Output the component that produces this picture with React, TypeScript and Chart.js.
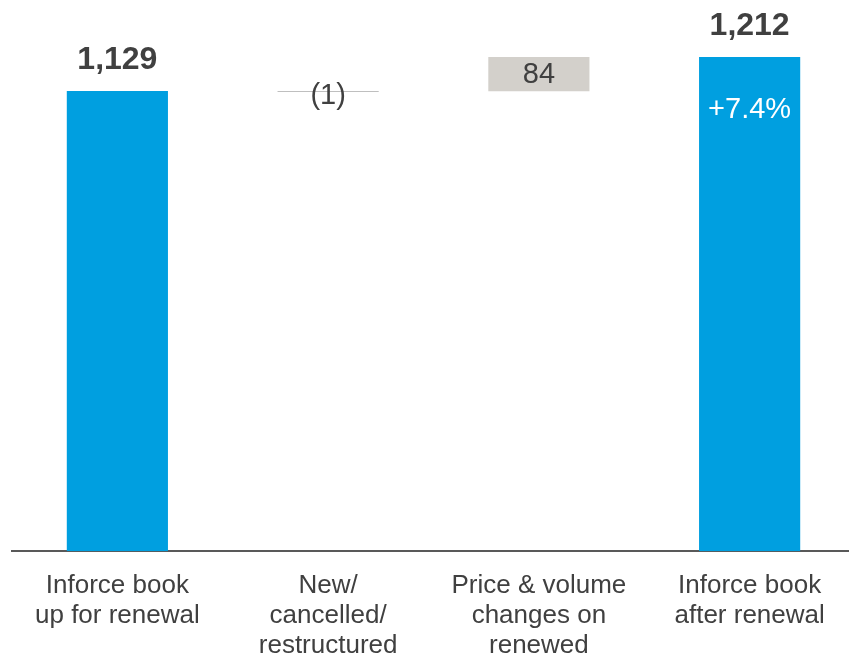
import React, { useEffect, useRef } from "react";
import { Chart, registerables } from "chart.js";

Chart.register(...registerables);

const categories: string[][] = [
  ["Inforce book", "up for renewal"],
  ["New/", "cancelled/", "restructured"],
  ["Price & volume", "changes on", "renewed"],
  ["Inforce book", "after renewal"],
];
const startTotal = 1129;
const changes = [-1, 84];
const endTotal = 1212;
const valueLabels = ["1,129", "(1)", "84", "1,212"];
const growthLabel = "+7.4%";

const BLUE = "#009FE0";
const GREY = "#D3D0CB";
const TEXT = "#404040";
const FONT = "'Liberation Sans', Arial, sans-serif";

export default function App() {
  const ref = useRef<HTMLCanvasElement | null>(null);

  useEffect(() => {
    document.body.style.margin = "0";
    const ranges: [number, number][] = [];
    ranges.push([0, startTotal]);
    let running = startTotal;
    changes.forEach((c) => {
      const next = running + c;
      ranges.push([Math.min(running, next), Math.max(running, next)]);
      running = next;
    });
    ranges.push([0, endTotal]);

    const labelPlugin = {
      id: "wfLabels",
      afterDatasetsDraw(chart: any) {
        const ctx = chart.ctx;
        const meta = chart.getDatasetMeta(0);
        ctx.save();
        ctx.textAlign = "center";
        ctx.textBaseline = "middle";
        meta.data.forEach((bar: any, i: number) => {
          const { x, y, base, width } = bar.getProps(["x", "y", "base", "width"], true);
          const top = Math.min(y, base);
          const bottom = Math.max(y, base);
          if (i === 0 || i === meta.data.length - 1) {
            ctx.font = `bold 32px ${FONT}`;
            ctx.fillStyle = TEXT;
            ctx.fillText(valueLabels[i], x, top - 31);
            if (i === meta.data.length - 1) {
              ctx.font = `29px ${FONT}`;
              ctx.fillStyle = "#FFFFFF";
              ctx.fillText(growthLabel, x, top + 53);
            }
          } else if (changes[i - 1] < 0) {
            ctx.strokeStyle = "#BFBFBF";
            ctx.lineWidth = 1;
            ctx.beginPath();
            ctx.moveTo(x - width / 2, Math.round(top) + 0.5);
            ctx.lineTo(x + width / 2, Math.round(top) + 0.5);
            ctx.stroke();
            ctx.font = `29px ${FONT}`;
            ctx.fillStyle = TEXT;
            ctx.fillText(valueLabels[i], x, top + 5);
          } else {
            ctx.font = `29px ${FONT}`;
            ctx.fillStyle = TEXT;
            ctx.fillText(valueLabels[i], x, (top + bottom) / 2 + 1);
          }
        });
        ctx.restore();
      },
    };

    const chart = new Chart(ref.current as HTMLCanvasElement, {
      type: "bar",
      data: {
        labels: categories,
        datasets: [
          {
            data: ranges as any,
            backgroundColor: [BLUE, "rgba(0,0,0,0)", GREY, BLUE],
            borderWidth: 0,
            categoryPercentage: 1,
            barPercentage: 0.48,
          },
        ],
      },
      options: {
        animation: false,
        responsive: false,
        maintainAspectRatio: false,
        layout: { padding: { left: 12, right: 0, top: 0, bottom: -27 } },
        plugins: {
          legend: { display: false },
          tooltip: { enabled: false },
        },
        scales: {
          x: {
            grid: { display: false, drawTicks: false },
            border: { display: true, color: "#595959", width: 2 },
            ticks: {
              color: TEXT,
              font: { family: FONT, size: 26, lineHeight: 1.15 },
              padding: 20,
              maxRotation: 0,
              autoSkip: false,
            },
          },
          y: {
            display: false,
            min: 0,
            max: 1352,
          },
        },
      },
      plugins: [labelPlugin],
    });
    return () => chart.destroy();
  }, []);

  return (
    <div style={{ position: "absolute", left: 0, top: 0, width: 849, height: 654, overflow: "hidden" }}>
      <canvas ref={ref} width={855} height={654} style={{ display: "block" }} />
    </div>
  );
}
